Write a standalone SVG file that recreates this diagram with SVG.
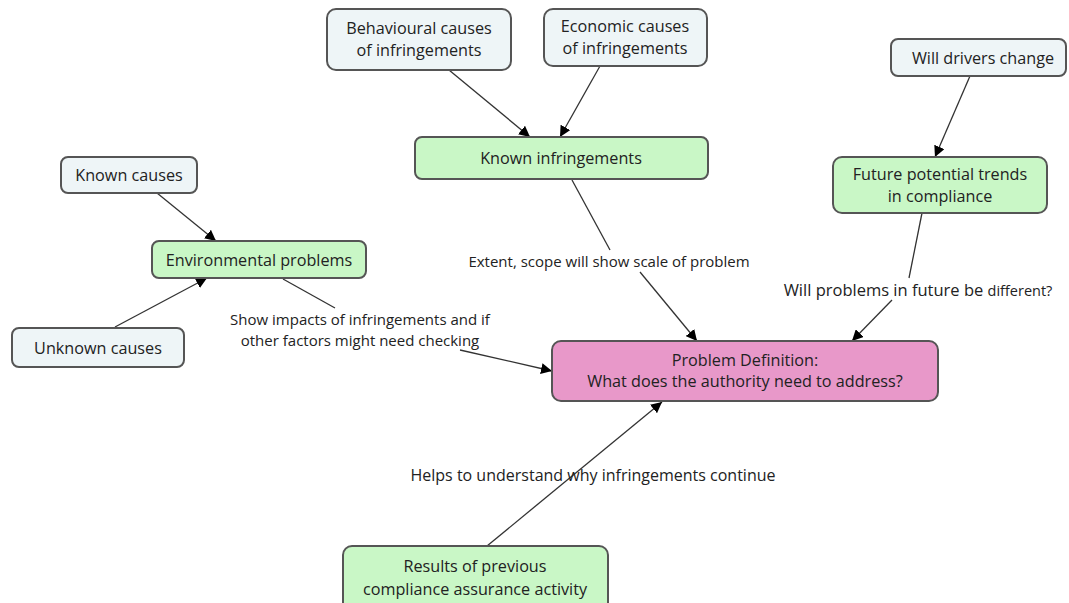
<svg xmlns="http://www.w3.org/2000/svg" width="1069" height="603" viewBox="0 0 1069 603">
<style>
.n rect{stroke:#555;stroke-width:2;}
.blue rect{fill:#eef5f7;}
.green rect{fill:#c9f7c6;}
.pink rect{fill:#e898c9;}
text{font-family:"Open Sans","Liberation Sans",sans-serif;fill:#222;text-anchor:middle;}
.n text{font-size:16.2px;}
.lbl{font-size:15px;}
.c line{stroke:#333;stroke-width:1.3;}
</style>
<defs>
<marker id="ah" viewBox="0 0 10 10" refX="10" refY="5" markerWidth="11" markerHeight="11" markerUnits="userSpaceOnUse" orient="auto">
<path d="M0,0 L10,5 L0,10 z" fill="#000"/>
</marker>
</defs>
<rect width="1069" height="603" fill="#fff"/>
<g id="connectors" class="c">
<line x1="449" y1="70" x2="530" y2="137" marker-end="url(#ah)"/>
<line x1="600" y1="66" x2="560" y2="137" marker-end="url(#ah)"/>
<line x1="970" y1="76" x2="935" y2="157" marker-end="url(#ah)"/>
<line x1="157" y1="193" x2="216" y2="241" marker-end="url(#ah)"/>
<line x1="115" y1="327" x2="207" y2="278" marker-end="url(#ah)"/>
<line x1="283" y1="279" x2="335" y2="308"/>
<line x1="460" y1="350" x2="552" y2="371" marker-end="url(#ah)"/>
<line x1="572" y1="180" x2="610" y2="250"/>
<line x1="640" y1="272" x2="697" y2="341" marker-end="url(#ah)"/>
<line x1="922" y1="213" x2="909" y2="278"/>
<line x1="892" y1="300" x2="852" y2="341" marker-end="url(#ah)"/>
<line x1="487" y1="546" x2="662" y2="402" marker-end="url(#ah)"/>
</g>
<g id="lbl-extent"><text class="lbl" x="609" y="267">Extent, scope will show scale of problem</text></g>
<g id="lbl-future"><text class="lbl" x="918" y="296" style="font-size:16.5px">Will problems in future be <tspan style="font-size:14.5px">different?</tspan></text></g>
<g id="lbl-impacts"><text class="lbl" x="360" y="325">Show impacts of infringements and if</text><text class="lbl" x="360" y="346">other factors might need checking</text></g>
<g id="lbl-helps"><text x="593" y="481" style="font-size:16px">Helps to understand why infringements continue</text></g>
<g id="behavioural" class="n blue"><rect x="327" y="9" width="184" height="61" rx="9"/><text x="419" y="34">Behavioural causes</text><text x="419" y="56">of infringements</text></g>
<g id="economic" class="n blue"><rect x="544" y="9" width="163" height="57" rx="9"/><text x="625" y="32">Economic causes</text><text x="625" y="54">of infringements</text></g>
<g id="known-infringements" class="n green"><rect x="415" y="137" width="293" height="42" rx="7"/><text x="561" y="164">Known infringements</text></g>
<g id="will-drivers" class="n blue"><rect x="891" y="39" width="175" height="37" rx="7"/><text x="983" y="64">Will drivers change</text></g>
<g id="future-trends" class="n green"><rect x="833" y="157" width="214" height="56" rx="9"/><text x="940" y="180">Future potential trends</text><text x="940" y="202">in compliance</text></g>
<g id="known-causes" class="n blue"><rect x="61" y="157" width="136" height="36" rx="7"/><text x="129" y="181">Known causes</text></g>
<g id="environmental" class="n green"><rect x="152" y="241" width="214" height="37" rx="7"/><text x="259" y="266">Environmental problems</text></g>
<g id="unknown-causes" class="n blue"><rect x="12" y="328" width="172" height="39" rx="7"/><text x="98" y="354">Unknown causes</text></g>
<g id="problem-definition" class="n pink"><rect x="552" y="341" width="386" height="60" rx="9"/><text x="745" y="366">Problem Definition:</text><text x="745" y="387">What does the authority need to address?</text></g>
<g id="results" class="n green"><rect x="343" y="546" width="265" height="66" rx="9"/><text x="475" y="572">Results of previous</text><text x="475" y="595">compliance assurance activity</text></g>
</svg>
